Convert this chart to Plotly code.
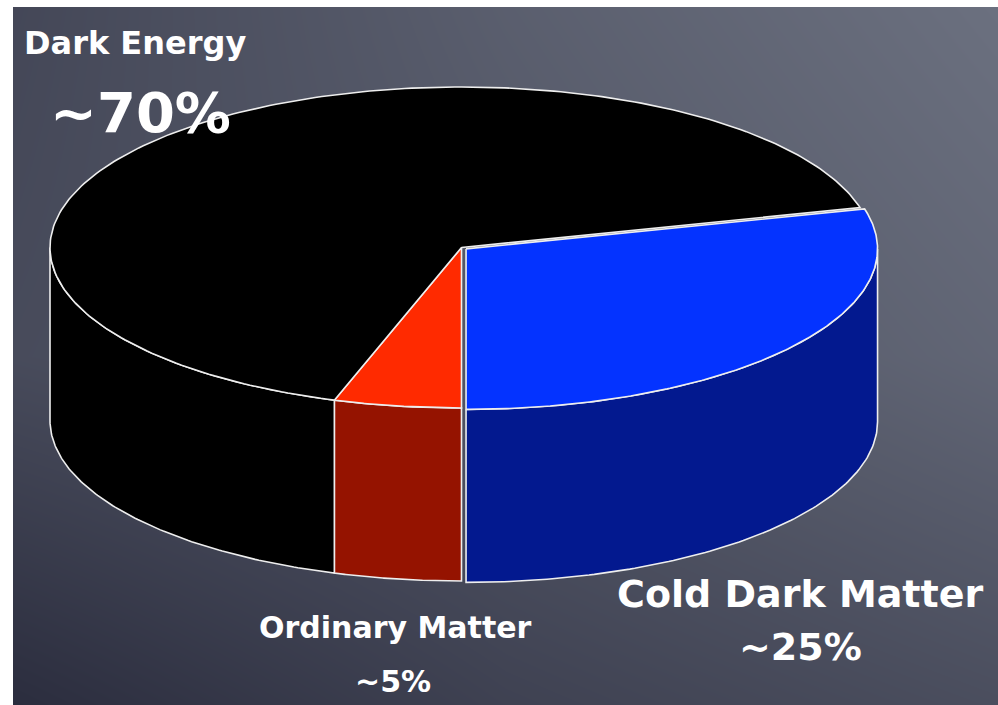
import numpy as np
import plotly.graph_objects as go

# ---------------- data ----------------
categories = ["Ordinary Matter", "Cold Dark Matter", "Dark Energy"]
shares = [5, 29, 66]                      # slice sizes as drawn (percent of the circle)
label_values = ["~5%", "~25%", "~70%"]    # labels printed on the chart

# ---------------- style ----------------
top_colors = ["#ff2a00", "#0433ff", "#000000"]
side_colors = ["#951300", "#03198f", "#000000"]
explode = [0.0, 0.014, 0.0]
edge = dict(color="#eeeeee", width=1.6)

W, H = 998, 705
ML, MT = 13, 7
CX_PX, CY_PX, RX_PX, RY_PX, DEPTH_PX = 461.5, 247.5, 411.5, 160.5, 173


def X(px):
    return (px - CX_PX) / RX_PX


def Y(py):
    return (CY_PX - py) / RX_PX


RX = 1.0
RY = RY_PX / RX_PX
DEPTH = DEPTH_PX / RX_PX

x_range = [X(ML), X(W)]
y_range = [Y(H), Y(MT)]

fig = go.Figure()

# background (slate gradient)
bg_x = [x_range[0], (x_range[0] + x_range[1]) / 2, x_range[1]]
bg_y = [y_range[0], (y_range[0] + y_range[1]) / 2, y_range[1]]
bg_z = [[0.02, 0.32, 0.50],    # bottom row
        [0.46, 0.62, 0.85],    # middle row
        [0.40, 0.74, 1.00]]    # top row
fig.add_trace(go.Heatmap(x=bg_x, y=bg_y, z=bg_z, zsmooth="best", showscale=False,
                         colorscale=[[0, "#2b2d3e"], [1, "#6b707f"]],
                         hoverinfo="skip"))

total = sum(shares)
start = -90 - shares[0] / total * 360
spans = []
a = start
for s in shares:
    b = a + s / total * 360
    spans.append((a, b))
    a = b


def front_parts(a0, a1):
    parts = []
    for k in (-720, -360, 0, 360):
        lo = max(a0, 180 + k)
        hi = min(a1, 360 + k)
        if hi > lo:
            parts.append((lo, hi))
    return parts


def offset(i):
    a0, a1 = spans[i]
    mid = np.radians((a0 + a1) / 2)
    return explode[i] * np.cos(mid) * RX, explode[i] * np.sin(mid) * RY


# side walls
for i, (a0, a1) in enumerate(spans):
    ox, oy = offset(i)
    for lo, hi in front_parts(a0, a1):
        t = np.radians(np.linspace(lo, hi, 120))
        xs_top = ox + RX * np.cos(t)
        ys_top = oy + RY * np.sin(t)
        xs = np.concatenate([xs_top, xs_top[::-1], xs_top[:1]])
        ys = np.concatenate([ys_top, ys_top[::-1] - DEPTH, ys_top[:1]])
        fig.add_trace(go.Scatter(x=xs, y=ys, mode="lines", fill="toself",
                                 fillcolor=side_colors[i], line=edge,
                                 hoverinfo="skip", showlegend=False))

# top faces
for i, (a0, a1) in enumerate(spans):
    ox, oy = offset(i)
    t = np.radians(np.linspace(a0, a1, 240))
    xs = np.concatenate([[ox], ox + RX * np.cos(t), [ox]])
    ys = np.concatenate([[oy], oy + RY * np.sin(t), [oy]])
    fig.add_trace(go.Scatter(x=xs, y=ys, mode="lines", fill="toself",
                             fillcolor=top_colors[i], line=edge,
                             hoverinfo="skip", showlegend=False,
                             name=categories[i]))

# labels
FONT = "DejaVu Sans"
label_pos = [  # (name x, name y, name size, value x, value y, value size) in pixels
    (395, 627, 30, 393, 681, 30),
    (800, 594, 38, 800, 647, 38),
    (135, 43, 32, 140, 112, 56),
]
for i, (nx, ny, ns, vx, vy, vs) in enumerate(label_pos):
    fig.add_annotation(x=X(nx), y=Y(ny), text=categories[i], showarrow=False,
                       xanchor="center", yanchor="middle",
                       font=dict(family=FONT, size=ns, color="white", weight="bold"))
    fig.add_annotation(x=X(vx), y=Y(vy), text=label_values[i], showarrow=False,
                       xanchor="center", yanchor="middle",
                       font=dict(family=FONT, size=vs, color="white", weight="bold"))

fig.update_layout(
    width=W, height=H,
    margin=dict(l=ML, r=0, t=MT, b=0, pad=0),
    paper_bgcolor="white", plot_bgcolor="#4c505e",
    xaxis=dict(range=x_range, visible=False, fixedrange=True),
    yaxis=dict(range=y_range, visible=False, fixedrange=True),
    showlegend=False,
)

fig.write_html("out.html")
